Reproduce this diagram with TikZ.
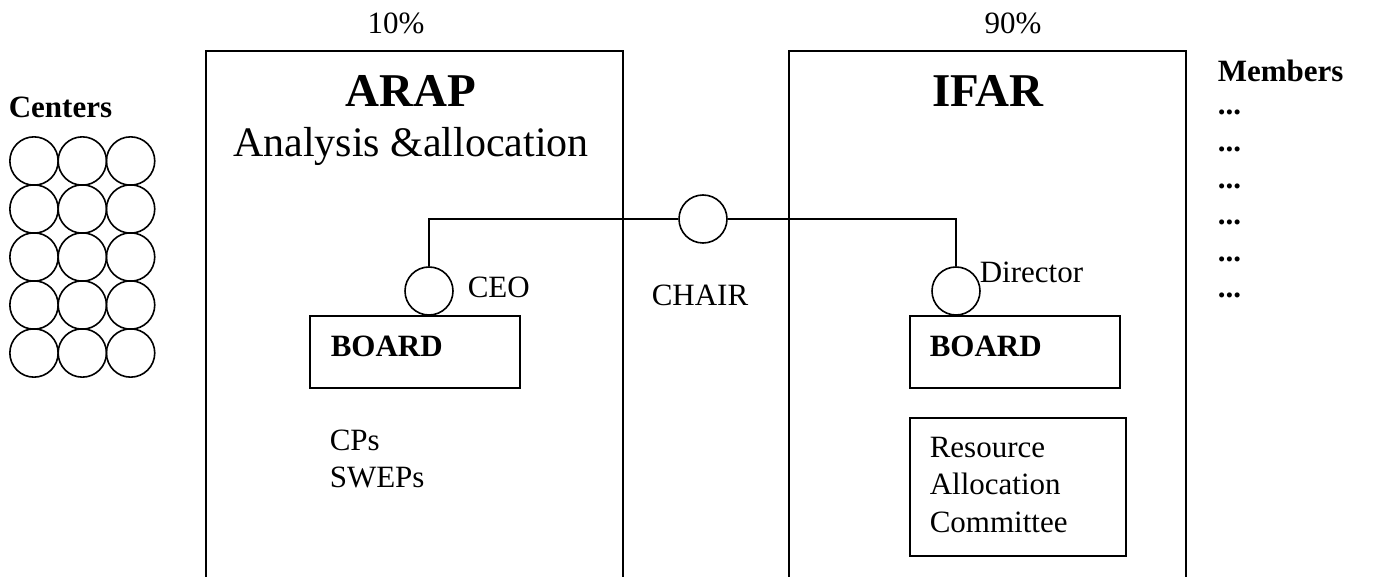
\documentclass[tikz,border=0pt]{standalone}
\usepackage{fontspec}
\setmainfont{Liberation Serif}
\begin{document}
\begin{tikzpicture}[x=1pt,y=-1pt,line width=1.6pt,
  txt/.style={inner sep=0pt,font=\fontsize{31}{37}\selectfont},
  bold/.style={txt,font=\fontsize{31}{37}\selectfont\bfseries},
  title/.style={inner sep=0pt,font=\fontsize{47}{52}\selectfont\bfseries},
  sub/.style={inner sep=0pt,font=\fontsize{42}{48}\selectfont},
  org/.style={draw,inner sep=0pt,anchor=north west},
  post/.style={draw,circle,fill=white,inner sep=0pt,minimum size=48pt},
  unit/.style={draw,circle,inner sep=0pt,minimum size=48.3pt}]
\useasboundingbox (0,0) rectangle (1377,577);
\begin{scope}
\clip (0,0) rectangle (1377,577);
% the two organisations, open at the bottom
\node[org,minimum width=417pt,minimum height=560pt] (arap) at (205,50) {};
\node[org,minimum width=397pt,minimum height=560pt] (ifar) at (788,50) {};
\end{scope}

% headings
\node[txt,anchor=base] (p10) at (396,34) {10\%};
\node[txt,anchor=base] (p90) at (1013,34) {90\%};
\node[title,anchor=base] (arapt) at (411,107) {ARAP};
\node[sub,anchor=base] (arapsub) at (411,157) {Analysis \&allocation};
\node[title,anchor=base] (ifart) at (988,107) {IFAR};

% centers grid
\node[bold,anchor=base west] (centers) at (8,118) {Centers};
\foreach \r in {0,...,4}{
  \foreach \c in {0,...,2}{
    \node[unit] (u\r\c) at (34+48.3*\c,161+48*\r) {};
  }
}

% members list
\node[bold,anchor=base west] (members) at (1217,82) {Members};
\foreach \i in {0,...,5}{
  \node[bold,anchor=base west] (m\i) at (1217,115+36.6*\i) {...};
}

% boards
\node[org,minimum width=210pt,minimum height=72pt] (board1) at (309,315) {};
\node[bold,anchor=base west] (board1t) at (330,357) {BOARD};
\node[org,minimum width=210pt,minimum height=72pt] (board2) at (909,315) {};
\node[bold,anchor=base west] (board2t) at (929,357) {BOARD};

% resource allocation committee
\node[org,minimum width=216pt,minimum height=138pt] (rac) at (909,417) {};
\node[txt,anchor=base west] (rac1) at (929,457) {Resource};
\node[txt,anchor=base west] (rac2) at (929,494.5) {Allocation};
\node[txt,anchor=base west] (rac3) at (929,532) {Committee};

% programmes
\node[txt,anchor=base west] (cps) at (329,450) {CPs};
\node[txt,anchor=base west] (sweps) at (329,487) {SWEPs};

% office holders
\node[post] (ceo) at (429,291) {};
\node[post] (chair) at (703,219) {};
\node[post] (dir) at (956,291) {};
\node[txt,anchor=base west] (ceot) at (467,298) {CEO};
\node[txt,anchor=base] (chairt) at (700,306) {CHAIR};
\node[txt,anchor=base west] (dirt) at (979,283) {Director};

% reporting line
\draw (ceo.north) |- (chair.west);
\draw (chair.east) -| (dir.north);
\end{tikzpicture}
\end{document}
